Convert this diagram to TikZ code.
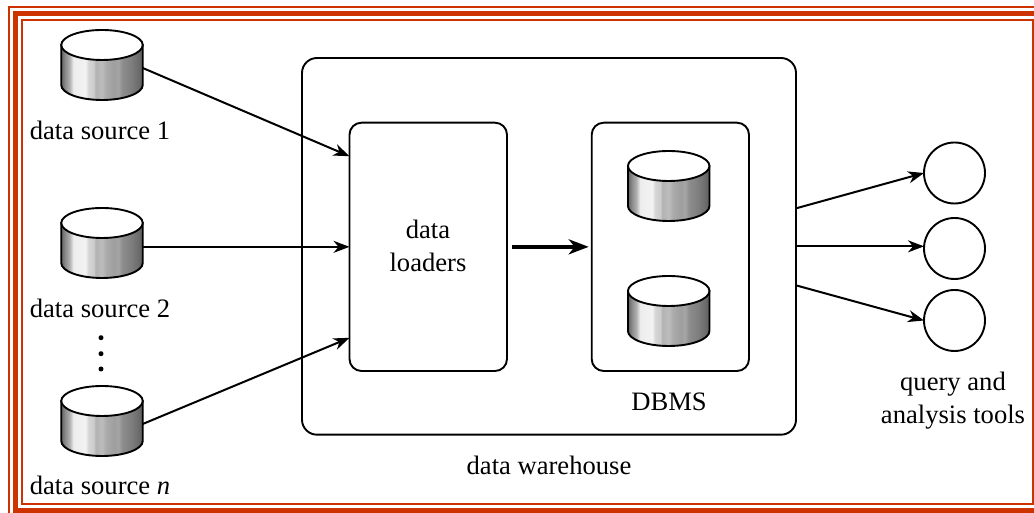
\documentclass[tikz,border=0pt]{standalone}
\usepackage{fontspec}
\setmainfont{Liberation Serif}
\usetikzlibrary{arrows.meta}

\definecolor{framered}{HTML}{CC3300}
\pgfdeclarehorizontalshading{cylband}{100bp}{%
  color(0bp)=(black!62); color(25bp)=(black!62); color(27.5bp)=(black!45);
  color(30bp)=(black!32); color(32.5bp)=(black!7); color(40bp)=(black!5);
  color(41.5bp)=(black!16); color(45bp)=(black!20); color(46bp)=(black!30);
  color(50bp)=(black!26); color(52.5bp)=(black!33); color(57.5bp)=(black!38);
  color(60bp)=(black!35); color(62.5bp)=(black!45); color(67.5bp)=(black!50);
  color(72.5bp)=(black!58); color(75bp)=(black!64); color(100bp)=(black!64)}
\tikzset{
  lbl/.style={font=\fontsize{26.6}{33}\selectfont, inner sep=0pt, align=center},
  roundbox/.style={draw, line width=1.9pt, inner sep=0pt, outer sep=0pt},
  tool/.style={draw, circle, line width=1.9pt, minimum size=61pt, inner sep=0pt, outer sep=0pt},
  conn/.style={line width=2pt, -{Stealth[length=16pt,width=12pt,inset=5pt]}},
  heavyconn/.style={line width=4pt, -{Stealth[length=20pt,width=15pt,inset=6pt]}},
  dotmark/.style={circle, fill, inner sep=0pt, minimum size=5pt},
  frameline/.style={draw=framered}
}
% #1 name, (#2,#3) middle of the top face
\newcommand{\dbcyl}[3]{
  \shade[shading=cylband, draw, line width=1.9pt]
  (#2-40.75,#3) -- ++(0,-40) arc[start angle=180, end angle=360, x radius=40.75, y radius=15]
  -- ++(0,40) -- cycle;
  \draw[fill=white, line width=1.9pt] (#2,#3) ellipse[x radius=40.75, y radius=15];
  \node[minimum width=81.5pt, minimum height=40pt, inner sep=0pt, outer sep=0pt] (#1) at (#2,#3-20) {};
}

\begin{document}
\begin{tikzpicture}[x=1pt, y=1pt]

        \clip (0,0) rectangle (1034,513);

        \draw[frameline, line width=2.2pt] (9,-20) rectangle (1060,506.3);
        \draw[frameline, line width=5pt] (15.5,2) rectangle (1050,499.5);
        \draw[frameline, line width=2.2pt] (22,9) rectangle (1033.3,492.7);

        \node[roundbox, rounded corners=15pt, minimum width=494pt, minimum height=376.7pt] (warehouse) at (549,266.65) {};
        \node[roundbox, rounded corners=12pt, minimum width=157.5pt, minimum height=248.3pt] (loaders) at (428.25,266.15) {};
        \node[roundbox, rounded corners=12pt, minimum width=157.3pt, minimum height=248.3pt] (dbms) at (670.35,266.15) {};

        \dbcyl{src1}{102}{468}
        \dbcyl{src2}{102}{290}
        \dbcyl{srcn}{102}{112}
        \dbcyl{store1}{668.7}{347}
        \dbcyl{store2}{668.7}{222}

        \node[tool] (tool1) at (954.5,340) {};
        \node[tool] (tool2) at (954.5,264.5) {};
        \node[tool] (tool3) at (954.5,192.5) {};

        \node[dotmark] (dot1) at (101,175.3) {};
        \node[dotmark] (dot2) at (101,159.3) {};
        \node[dotmark] (dot3) at (101,144) {};

        \draw[conn] ([yshift=-3]src1.east) -- ([yshift=90.6]loaders.west);
        \draw[conn] (loaders.west -| src2.east) -- (loaders.west);
        \draw[conn] ([yshift=-3]srcn.east) -- ([yshift=-91]loaders.west);
        \draw[heavyconn] ([xshift=5]loaders.east) -- ([xshift=-3]dbms.west);
        \draw[conn] ([yshift=38]warehouse.east) -- (tool1.west);
        \draw[conn] (warehouse.east) -- (warehouse.east -| tool2.west);
        \draw[conn] ([yshift=-39]warehouse.east) -- (tool3.west);

        \node[lbl, anchor=base] (lab1) at (100,373.5) {data source 1};
        \node[lbl, anchor=base] (lab2) at (100,195.8) {data source 2};
        \node[lbl, anchor=base] (labn) at (100,18) {data source \textit{n}};
        \node[lbl] (labload) at (428,267) {data\\loaders};
        \node[lbl, anchor=base] (labdbms) at (669,102.3) {DBMS};
        \node[lbl, anchor=base] (labware) at (549,38) {data warehouse};
        \node[lbl] (labtools) at (953,112) {query and\\analysis tools};

\end{tikzpicture}
\end{document}
